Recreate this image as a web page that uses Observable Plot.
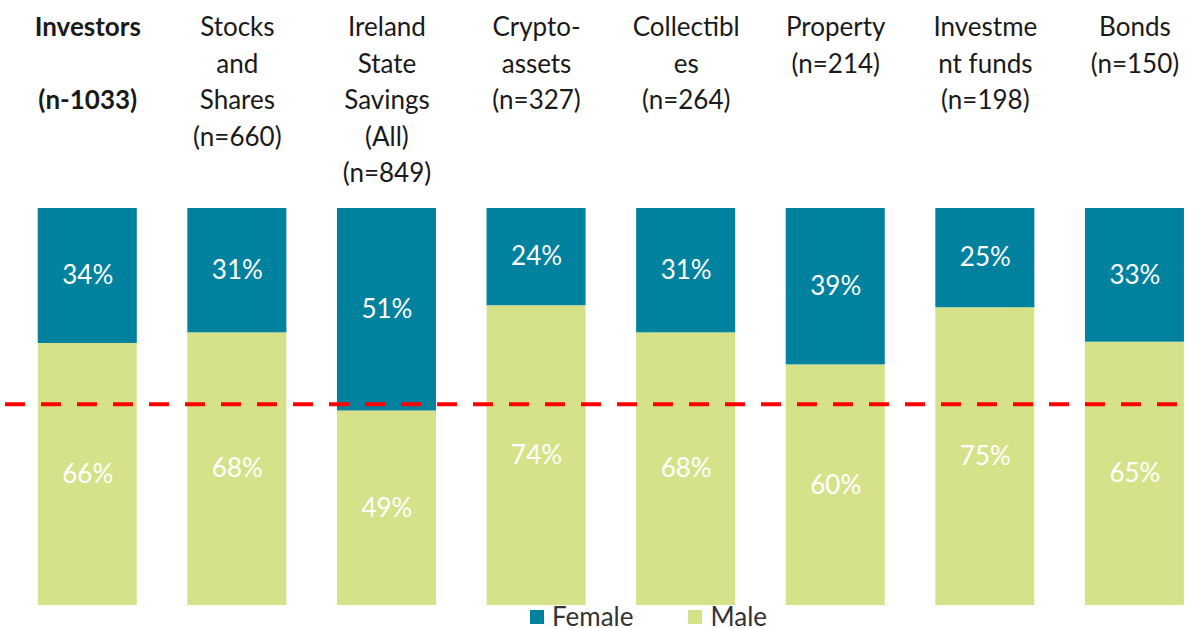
<!DOCTYPE html>
<html>
<head>
<meta charset="utf-8">
<script src="https://cdn.jsdelivr.net/npm/d3@7"></script>
<script src="https://cdn.jsdelivr.net/npm/@observablehq/plot@0.6"></script>
<style>
  html, body { margin: 0; padding: 0; background: #fff; }
  #chart { width: 1194px; font-family: Lato, "Open Sans", sans-serif; }
  svg { display: block; }
  .legend { display: flex; align-items: center; height: 23px; margin-left: 530px; font-size: 26px; color: #333; line-height: 23px; }
  .legend .item { display: flex; align-items: center; margin-right: 55px; }
  .legend .sw { width: 14px; height: 14px; margin-right: 8px; display: inline-block; }
</style>
</head>
<body>
<div id="chart"></div>
<script>
const categories = ["Investors", "Stocks and Shares", "Ireland State Savings (All)", "Crypto-assets", "Collectibles", "Property", "Investment funds", "Bonds"];
const categoryLabels = ["Investors\n\n(n-1033)", "Stocks\nand\nShares\n(n=660)", "Ireland\nState\nSavings\n(All)\n(n=849)", "Crypto-\nassets\n(n=327)", "Collectibl\nes\n(n=264)", "Property\n(n=214)", "Investme\nnt funds\n(n=198)", "Bonds\n(n=150)"];
const femaleShare = [34, 31, 51, 24, 31, 39, 25, 33];
const maleShare = [66, 68, 49, 74, 68, 60, 75, 65];
const genders = ["Male", "Female"];
const genderColors = ["#d5e28a", "#00829f"];
const parityLine = [0.507];

const rows = [];
categories.forEach((c, i) => {
  rows.push({cat: c, gender: "Male", value: maleShare[i]});
  rows.push({cat: c, gender: "Female", value: femaleShare[i]});
});
const labelRows = categories.map((c, i) => ({cat: c, label: categoryLabels[i]}));

const stackOpts = {x: "cat", y: "value", z: "gender", order: genders, offset: "normalize"};

const plot = Plot.plot({
  width: 1194,
  height: 605,
  marginTop: 208,
  marginBottom: 0,
  marginLeft: 5,
  marginRight: 6,
  style: {fontFamily: "Lato, 'Open Sans', sans-serif", background: "#fff"},
  x: {domain: categories, axis: null, paddingInner: 0.338, paddingOuter: 0.123, align: 0.89, round: false},
  y: {domain: [0, 1], axis: null},
  color: {domain: genders, range: genderColors},
  marks: [
    Plot.barY(rows, Plot.stackY({...stackOpts, fill: "gender"})),
    Plot.text(rows, Plot.stackY({...stackOpts, text: d => d.value + "%", fill: "white", fontSize: 26})),
    Plot.ruleY(parityLine, {stroke: "#ff0000", strokeWidth: 4, strokeDasharray: "20,16"}),
    Plot.text(labelRows.slice(0, 1), {x: "cat", text: "label", frameAnchor: "top", lineAnchor: "top", dy: -198, lineHeight: 1.4, fontSize: 26, fontWeight: "bold", fill: "#1a1a1a"}),
    Plot.text(labelRows.slice(1), {x: "cat", text: "label", frameAnchor: "top", lineAnchor: "top", dy: -198, lineHeight: 1.4, fontSize: 26, fill: "#1a1a1a"})
  ]
});
document.getElementById("chart").appendChild(plot);

const legend = document.createElement("div");
legend.className = "legend";
genders.slice().reverse().forEach((g) => {
  const item = document.createElement("span");
  item.className = "item";
  const sw = document.createElement("span");
  sw.className = "sw";
  sw.style.background = genderColors[genders.indexOf(g)];
  item.appendChild(sw);
  item.appendChild(document.createTextNode(g));
  legend.appendChild(item);
});
document.getElementById("chart").appendChild(legend);
</script>
</body>
</html>
